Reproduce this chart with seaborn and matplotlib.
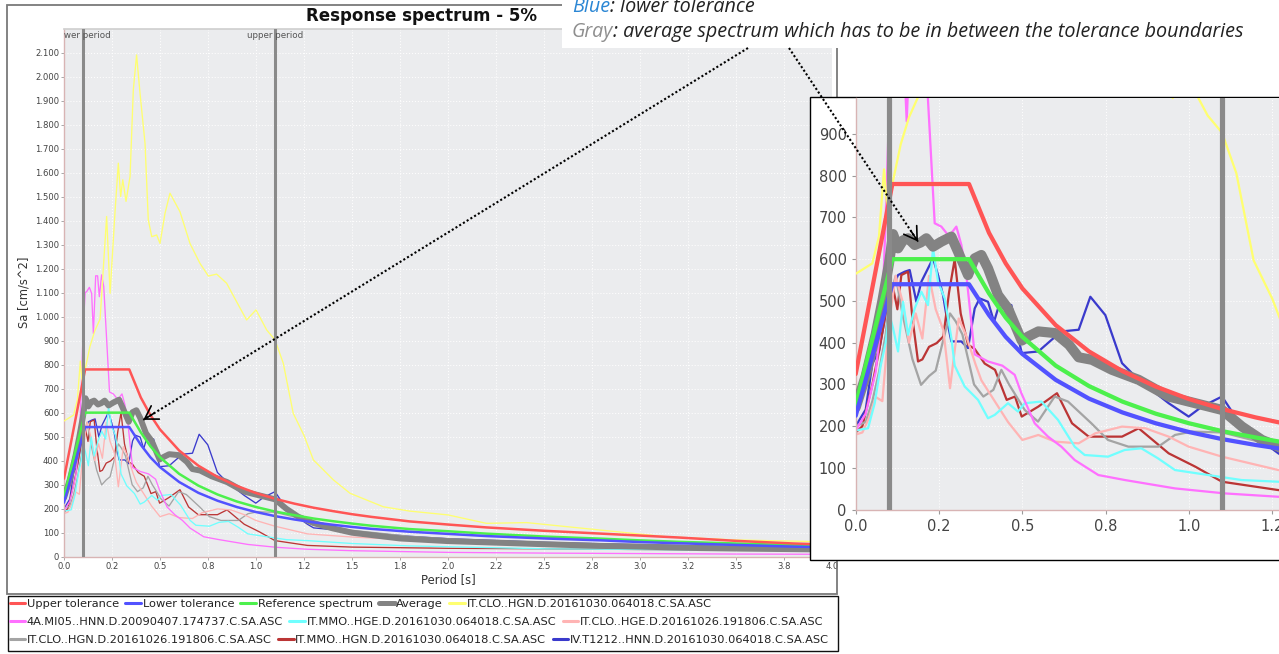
import matplotlib
matplotlib.use("Agg")
import matplotlib.pyplot as plt
from matplotlib.patches import Rectangle, FancyArrowPatch
from matplotlib.lines import Line2D
import numpy as np
import seaborn as sns

# ---------------- data ----------------
period_tol = [0, 0.11, 0.34, 0.4, 0.45, 0.5, 0.6, 0.7, 0.8, 0.9, 1.0, 1.1, 1.2, 1.3, 1.4,
              1.5, 1.6, 1.8, 2.0, 2.2, 2.5, 2.8, 3.0, 3.2, 3.5, 3.8, 4.0]
upper_tol = [325, 780, 780, 663, 590, 530, 442, 379, 332, 295, 265, 241, 221, 204, 190,
             177, 166, 147, 134, 122, 108, 96, 88, 80, 66, 55, 50]
reference = [250, 600, 600, 518, 460, 414, 345, 296, 259, 230, 207, 188, 173, 159, 148,
             138, 129, 115, 106, 96, 84, 75, 68, 62, 55, 48, 45]
lower_tol = [225, 540, 540, 466, 414, 373, 311, 266, 233, 207, 186, 169, 155, 143, 133,
             124, 116, 104, 95, 86, 76, 68, 61, 56, 49, 42, 39]

period_avg = [0, 0.03, 0.06, 0.08, 0.1, 0.112, 0.127, 0.142, 0.157, 0.177, 0.195, 0.212,
              0.232, 0.257, 0.287, 0.307, 0.337, 0.357, 0.377, 0.397, 0.427, 0.457, 0.498,
              0.518, 0.548, 0.598, 0.64, 0.669, 0.709, 0.769, 0.849, 0.939, 1.019, 1.099,
              1.159, 1.219, 1.268, 1.3, 1.4, 1.5, 1.75, 2.0, 2.27, 2.5, 2.79, 3.0, 3.31,
              3.5, 3.85, 4.0]
average = [245, 320, 420, 500, 590, 660, 626, 645, 650, 634, 640, 650, 630, 642, 654, 618,
           562, 602, 610, 578, 514, 482, 405, 415, 427, 423, 395, 365, 359, 335, 311, 271,
           255, 239, 199, 167, 151, 140, 118, 100, 76, 65, 58, 52, 45, 42, 36, 34, 31, 30]

period_clo_hgn_1030 = [0, 0.02, 0.05, 0.07, 0.085, 0.095, 0.11, 0.135, 0.16, 0.188, 0.222,
                       0.24, 0.266, 0.283, 0.295, 0.306, 0.323, 0.344, 0.361, 0.378, 0.396,
                       0.422, 0.439, 0.457, 0.483, 0.5, 0.526, 0.552, 0.604, 0.656, 0.708,
                       0.752, 0.795, 0.847, 0.899, 0.951, 1.0, 1.056, 1.099, 1.142, 1.194,
                       1.25, 1.299, 1.403, 1.49, 1.663, 1.8, 2.0, 2.2, 2.41, 2.62, 3.14,
                       3.49, 3.9, 4.0]
clo_hgn_1030 = [565, 575, 590, 655, 815, 720, 780, 875, 940, 990, 1417, 1097, 1440, 1639,
                1500, 1570, 1480, 1584, 1944, 2090, 1930, 1722, 1403, 1333, 1340, 1305,
                1430, 1514, 1437, 1305, 1222, 1169, 1177, 1139, 1062, 986, 1028, 944, 903,
                806, 597, 505, 403, 320, 264, 208, 190, 174, 139, 142, 125, 83, 70, 63, 62]

period_mi05 = [0, 0.03, 0.06, 0.08, 0.09, 0.1, 0.11, 0.118, 0.132, 0.144, 0.153, 0.165,
               0.175, 0.184, 0.196, 0.207, 0.217, 0.237, 0.257, 0.28, 0.302, 0.317, 0.332,
               0.357, 0.397, 0.44, 0.477, 0.497, 0.537, 0.577, 0.617, 0.657, 0.728, 0.808,
               0.958, 1.108, 1.268, 1.5, 2.0, 2.5, 3.0, 3.5, 4.0]
mi05_hnn = [190, 230, 330, 480, 700, 950, 1100, 1104, 1122, 1097, 930, 1170, 1170, 1083,
            1174, 1125, 980, 686, 678, 655, 678, 634, 562, 372, 355, 345, 323, 279, 207,
            175, 151, 119, 83, 71, 51, 39, 31, 25, 18, 15, 13, 11, 10]

period_mmo_hge = [0, 0.037, 0.057, 0.075, 0.09, 0.1, 0.112, 0.127, 0.142, 0.157, 0.177,
                  0.197, 0.217, 0.232, 0.247, 0.267, 0.287, 0.297, 0.327, 0.367, 0.397,
                  0.417, 0.457, 0.487, 0.507, 0.557, 0.607, 0.657, 0.687, 0.757, 0.807,
                  0.857, 0.907, 0.958, 1.058, 1.158, 1.268, 1.5, 1.8, 2.2, 2.5, 3.0, 3.5, 4.0]
mmo_hge = [190, 195, 255, 345, 400, 470, 435, 379, 498, 419, 482, 522, 490, 626, 546, 506,
           411, 345, 295, 263, 219, 227, 255, 235, 255, 259, 215, 151, 131, 127, 143, 147,
           123, 95, 83, 71, 67, 55, 45, 38, 33, 30, 27, 25]

period_clo_hge = [0, 0.02, 0.04, 0.06, 0.08, 0.1, 0.12, 0.14, 0.16, 0.18, 0.2, 0.22, 0.24,
                  0.263, 0.283, 0.309, 0.33, 0.36, 0.377, 0.417, 0.457, 0.5, 0.548, 0.598,
                  0.669, 0.719, 0.799, 0.869, 0.939, 0.999, 1.099, 1.268, 1.5, 1.85, 2.5,
                  3.0, 4.0]
clo_hge = [180, 185, 220, 270, 260, 450, 560, 500, 400, 470, 410, 560, 480, 430, 291, 458,
           420, 347, 310, 260, 210, 167, 179, 163, 159, 183, 199, 195, 175, 151, 127, 95,
           82, 68, 50, 42, 30]

period_clo_hgn_1026 = [0, 0.03, 0.05, 0.07, 0.09, 0.1, 0.12, 0.14, 0.17, 0.196, 0.22, 0.24,
                       0.266, 0.283, 0.3, 0.32, 0.355, 0.383, 0.413, 0.437, 0.46, 0.507,
                       0.547, 0.597, 0.637, 0.707, 0.757, 0.818, 0.908, 0.958, 1.008, 1.1,
                       1.2, 1.3, 1.5, 1.8, 2.2, 2.5, 3.0, 3.5, 4.0]
clo_hgn_1026 = [200, 210, 260, 330, 420, 500, 560, 470, 361, 299, 320, 333, 417, 470, 451,
                420, 300, 271, 287, 335, 300, 239, 211, 271, 259, 207, 167, 151, 151, 179,
                187, 185, 165, 140, 110, 85, 65, 55, 45, 38, 33]

period_mmo_hgn = [0, 0.02, 0.05, 0.07, 0.09, 0.11, 0.125, 0.137, 0.157, 0.17, 0.187, 0.2,
                  0.22, 0.243, 0.263, 0.28, 0.297, 0.315, 0.337, 0.357, 0.387, 0.418, 0.453,
                  0.478, 0.498, 0.548, 0.604, 0.649, 0.699, 0.799, 0.849, 0.939, 1.019,
                  1.099, 1.268, 1.5, 2.0, 2.5, 3.0, 4.0]
mmo_hgn = [185, 200, 300, 380, 470, 540, 480, 562, 570, 460, 355, 360, 390, 399, 415, 520,
           600, 470, 395, 385, 350, 335, 263, 271, 223, 247, 279, 207, 175, 175, 195, 135,
           103, 67, 47, 40, 35, 33, 30, 25]

period_t1212 = [0, 0.03, 0.05, 0.07, 0.09, 0.11, 0.127, 0.147, 0.162, 0.182, 0.197, 0.232,
                0.247, 0.262, 0.277, 0.287, 0.317, 0.337, 0.357, 0.372, 0.397, 0.415, 0.432,
                0.467, 0.498, 0.548, 0.588, 0.618, 0.669, 0.704, 0.749, 0.799, 0.849, 0.939,
                0.999, 1.039, 1.099, 1.159, 1.268, 1.3, 1.5, 1.8, 2.0, 2.5, 3.0, 3.5, 4.0]
t1212_hnn = [200, 240, 350, 380, 470, 530, 562, 570, 574, 498, 546, 602, 562, 514, 442, 403,
             403, 387, 482, 506, 498, 450, 495, 490, 375, 379, 407, 427, 431, 510, 466, 351,
             311, 255, 223, 247, 271, 199, 135, 120, 105, 85, 75, 60, 50, 42, 36]

lower_period = 0.1
upper_period = 1.1

xtick_values = [0, 0.25, 0.5, 0.75, 1.0, 1.25, 1.5, 1.75, 2.0, 2.25, 2.5, 2.75, 3.0, 3.25,
                3.5, 3.75, 4.0]
xtick_labels = ['0.0', '0.2', '0.5', '0.8', '1.0', '1.2', '1.5', '1.8', '2.0', '2.2', '2.5',
                '2.8', '3.0', '3.2', '3.5', '3.8', '4.0']
ytick_values = [0, 100, 200, 300, 400, 500, 600, 700, 800, 900, 1000, 1100, 1200, 1300,
                1400, 1500, 1600, 1700, 1800, 1900, 2000, 2100]
ytick_labels = ['0', '100', '200', '300', '400', '500', '600', '700', '800', '900', '1.000',
                '1.100', '1.200', '1.300', '1.400', '1.500', '1.600', '1.700', '1.800',
                '1.900', '2.000', '2.100']
inset_ytick_values = [0, 100, 200, 300, 400, 500, 600, 700, 800, 900]
inset_ytick_labels = ['0', '100', '200', '300', '400', '500', '600', '700', '800', '900']

# ---------------- styles ----------------
series = [
    # name, x, y, colour, main linewidth, zorder
    ('IV.T1212..HNN.D.20161030.064018.C.SA.ASC', period_t1212, t1212_hnn, '#3a3acc', 0.95, 2.0),
    ('IT.MMO..HGN.D.20161030.064018.C.SA.ASC', period_mmo_hgn, mmo_hgn, '#bb3535', 0.95, 2.1),
    ('IT.CLO..HGN.D.20161026.191806.C.SA.ASC', period_clo_hgn_1026, clo_hgn_1026, '#a4a4a4', 0.95, 2.2),
    ('IT.CLO..HGE.D.20161026.191806.C.SA.ASC', period_clo_hge, clo_hge, '#ffb4b4', 0.95, 2.3),
    ('IT.MMO..HGE.D.20161030.064018.C.SA.ASC', period_mmo_hge, mmo_hge, '#70ffff', 0.95, 2.4),
    ('4A.MI05..HNN.D.20090407.174737.C.SA.ASC', period_mi05, mi05_hnn, '#ff70ff', 0.95, 2.5),
    ('IT.CLO..HGN.D.20161030.064018.C.SA.ASC', period_clo_hgn_1030, clo_hgn_1030, '#ffff70', 0.95, 2.6),
    ('Average', period_avg, average, '#838383', 4.3, 3.0),
    ('Reference spectrum', period_tol, reference, '#4cf04c', 1.8, 4.0),
    ('Lower tolerance', period_tol, lower_tol, '#5252ff', 1.8, 5.0),
    ('Upper tolerance', period_tol, upper_tol, '#ff5555', 1.8, 6.0),
]
style = {s[0]: s for s in series}

legend_rows = [
    ['Upper tolerance', 'Lower tolerance', 'Reference spectrum', 'Average',
     'IT.CLO..HGN.D.20161030.064018.C.SA.ASC'],
    ['4A.MI05..HNN.D.20090407.174737.C.SA.ASC', 'IT.MMO..HGE.D.20161030.064018.C.SA.ASC',
     'IT.CLO..HGE.D.20161026.191806.C.SA.ASC'],
    ['IT.CLO..HGN.D.20161026.191806.C.SA.ASC', 'IT.MMO..HGN.D.20161030.064018.C.SA.ASC',
     'IV.T1212..HNN.D.20161030.064018.C.SA.ASC'],
]

sns.set_theme(style="white")
plt.rcParams['font.family'] = ['DejaVu Sans']

W, H = 1279, 654
fig = plt.figure(figsize=(W / 100, H / 100), dpi=100)
fig.patch.set_facecolor('white')


def fx(px):
    return px / W


def fy(py):
    return 1 - py / H


PLOT_BG = '#ebecee'
SPINE = '#d8b4b4'


def draw_series(a, scale):
    for name, xs, ys, col, lw, z in series:
        sns.lineplot(x=xs, y=ys, ax=a, color=col, linewidth=lw * scale,
                     estimator=None, sort=False, legend=False)
        ln = a.lines[-1]
        ln.set_zorder(z)
        ln.set_solid_joinstyle('round')
    for p in (lower_period, upper_period):
        a.axvline(p, color='#8a8a8a', lw=2.2 * scale, zorder=10)


def style_axes(a):
    a.set_facecolor(PLOT_BG)
    a.grid(True, color='white', linestyle=':', linewidth=0.8, alpha=0.9)
    a.set_axisbelow(True)
    for side in ('right', 'top'):
        a.spines[side].set_visible(False)
    for side in ('left', 'bottom'):
        a.spines[side].set_color(SPINE)
        a.spines[side].set_linewidth(1.0)
    a.set_xlabel('')
    a.set_ylabel('')


# ---------------- main chart ----------------
ax = fig.add_axes([fx(64), fy(556.7), fx(832 - 64), (556.7 - 29) / H])
ax.set_zorder(0)
draw_series(ax, 1.0)
style_axes(ax)
ax.spines['top'].set_visible(True)
ax.spines['top'].set_color('#d0d0d0')
ax.set_xlim(0, 4.0)
ax.set_ylim(0, 2198)
ax.set_xticks(xtick_values)
ax.set_xticklabels(xtick_labels)
ax.set_yticks(ytick_values)
ax.set_yticklabels(ytick_labels)
ax.tick_params(axis='both', labelsize=6.1, labelcolor='#444444', color='#9a9a9a',
               length=2, width=0.6, pad=1.5, direction='out', left=True, bottom=True)

for p, lab in ((lower_period, 'lower period'), (upper_period, 'upper period')):
    ax.text(p, 2190, lab, ha='center', va='top', fontsize=6.3, color='#555555',
            clip_on=True, zorder=11)

fig.text(fx(422), fy(16), 'Response spectrum - 5%', ha='center', va='center',
         fontsize=12, fontweight='bold', color='#111111')
fig.text(fx(24), fy(292), 'Sa [cm/s^2]', rotation=90, ha='center', va='center',
         fontsize=8.3, color='#333333')
fig.text(fx(448), fy(580), 'Period [s]', ha='center', va='center',
         fontsize=8.3, color='#333333')

# chart frame and legend frame
fig.add_artist(Rectangle((fx(6.5), fy(594)), fx(837 - 6.5), (594 - 5) / H,
                         transform=fig.transFigure, facecolor='none',
                         edgecolor='#7a7a7a', lw=1.3, zorder=1))
fig.add_artist(Rectangle((fx(8), fy(651)), fx(838 - 8), (651 - 596) / H,
                         transform=fig.transFigure, facecolor='none',
                         edgecolor='#111111', lw=1.0, zorder=1))

row_y = [604, 622, 640]
for names, ry in zip(legend_rows, row_y):
    handles = []
    for nm in names:
        s = style[nm]
        handles.append(Line2D([], [], color=s[3], lw=3.6 if nm == 'Average' else 2.2))
    fig.legend(handles, names, loc='center left', bbox_to_anchor=(fx(9.5), fy(ry)),
               ncol=len(names), frameon=False, fontsize=8.2, handlelength=1.4,
               handletextpad=0.12, columnspacing=0.55, borderpad=0, borderaxespad=0,
               labelcolor='#222222')

# ---------------- inset (magnified view) ----------------
fig.add_artist(Rectangle((fx(810), fy(560)), fx(W - 810) + 0.01, (560 - 97) / H,
                         transform=fig.transFigure, facecolor='white',
                         edgecolor='black', lw=1.0, zorder=2))
ax2 = fig.add_axes([fx(855.7), fy(509.7), fx(W - 855.7), (509.7 - 98) / H])
ax2.set_zorder(3)
draw_series(ax2, 1.7)
style_axes(ax2)
ax2.set_xlim(0, (W - 855.7) / 333.3)
ax2.set_ylim(0, 986)
ax2.set_xticks(xtick_values[:6])
ax2.set_xticklabels(xtick_labels[:6])
ax2.set_yticks(inset_ytick_values)
ax2.set_yticklabels(inset_ytick_labels)
ax2.tick_params(axis='both', labelsize=10.5, labelcolor='#444444', color='#9a9a9a',
                length=3, width=0.8, pad=3.5, direction='out', left=True, bottom=True)

# ---------------- annotation text box ----------------
fig.add_artist(Rectangle((fx(562), fy(48)), fx(W - 562) + 0.01, 48 / H + 0.01,
                         transform=fig.transFigure, facecolor='white', edgecolor='none',
                         zorder=4))
tfont = dict(family=['Open Sans', 'DejaVu Sans'], fontstyle='italic', fontsize=14.2, zorder=5)
t1 = fig.text(fx(572), fy(11.5), 'Blue', color='#2a86d4', va='baseline', **tfont)
t2 = fig.text(fx(572), fy(37.3), 'Gray', color='#8e8e8e', va='baseline', **tfont)
fig.canvas.draw()
r = fig.canvas.get_renderer()
b1 = t1.get_window_extent(r)
b2 = t2.get_window_extent(r)
fig.text(b1.x1 / W, fy(11.5), ': lower tolerance', color='#222222', va='baseline', **tfont)
fig.text(b2.x1 / W, fy(37.3),
         ': average spectrum which has to be in between the tolerance boundaries',
         color='#222222', va='baseline', **tfont)

# ---------------- dotted arrows ----------------
to_fig = fig.transFigure.inverted()


def dotted_arrow(start_px, target_ax, target_xy):
    tip_disp = target_ax.transData.transform(target_xy)
    sx, sy = start_px[0], H - start_px[1]
    tx, ty = tip_disp
    d = np.hypot(tx - sx, ty - sy)
    ux, uy = (tx - sx) / d, (ty - sy) / d
    bx, by = tx - 13 * ux, ty - 13 * uy
    p0 = to_fig.transform((sx, sy))
    p1 = to_fig.transform((tx, ty))
    pb = to_fig.transform((bx, by))
    fig.add_artist(Line2D([p0[0], p1[0]], [p0[1], p1[1]], transform=fig.transFigure,
                          color='black', lw=1.5, linestyle=(0, (1.0, 1.1)), zorder=8))
    fig.add_artist(FancyArrowPatch(tuple(pb), tuple(p1), transform=fig.transFigure,
                                   arrowstyle='->,head_length=0.45,head_width=0.28',
                                   mutation_scale=20, lw=1.2, color='black',
                                   shrinkA=0, shrinkB=0, zorder=8))


dotted_arrow((748, 48), ax, (0.413, 570))
dotted_arrow((789, 48), ax2, (0.187, 642))

fig.savefig('out.png', dpi=100, facecolor='white')
